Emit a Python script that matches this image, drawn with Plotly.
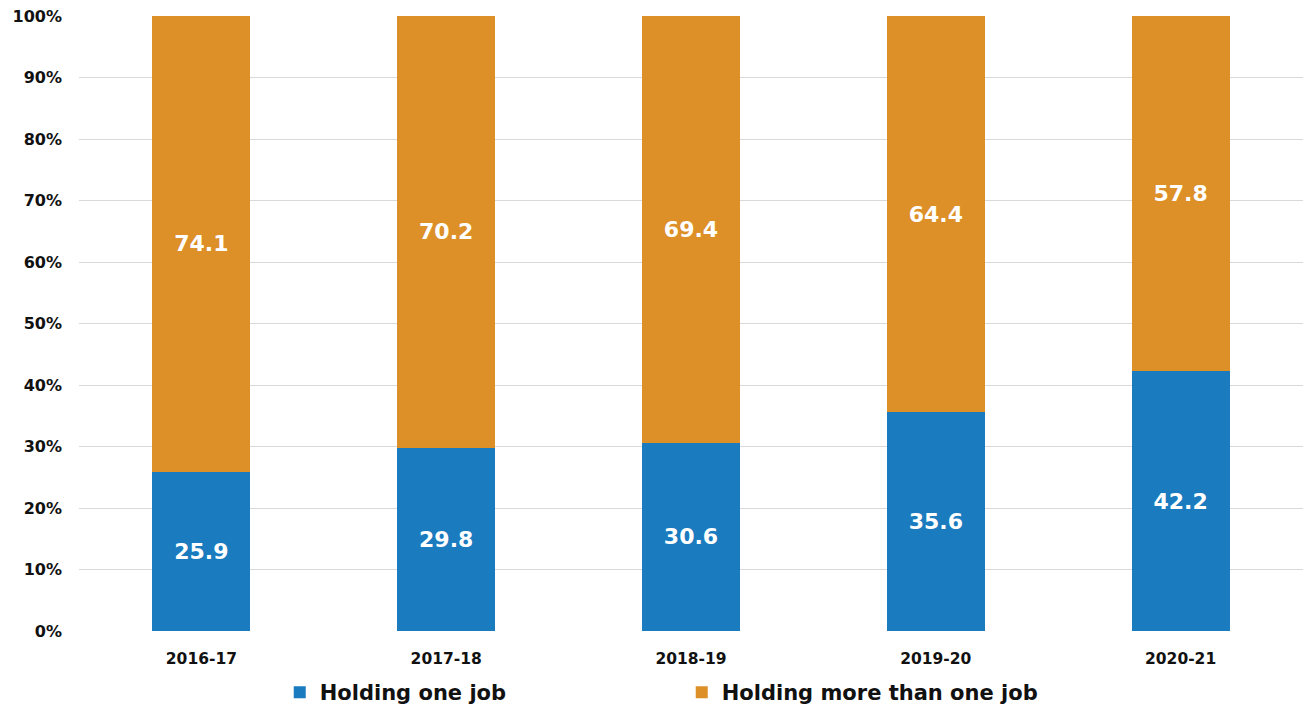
import plotly.graph_objects as go

years = ["2016-17", "2017-18", "2018-19", "2019-20", "2020-21"]
one_job = [25.9, 29.8, 30.6, 35.6, 42.2]
more_than_one = [74.1, 70.2, 69.4, 64.4, 57.8]
y_ticks = [0, 10, 20, 30, 40, 50, 60, 70, 80, 90, 100]
y_tick_labels = [f"{v}%" for v in y_ticks]

FONT = "DejaVu Sans"
BLUE = "#1a7bbf"
ORANGE = "#dd8f28"

fig = go.Figure()
fig.add_trace(go.Bar(
    x=years, y=one_job, name="Holding one job",
    marker=dict(color=BLUE, line=dict(width=0)),
    texttemplate="%{y:.1f}", textposition="inside", insidetextanchor="middle",
    textangle=0, textfont=dict(family=FONT, size=22, color="white", weight="bold"),
))
fig.add_trace(go.Bar(
    x=years, y=more_than_one, name="Holding more than one job",
    marker=dict(color=ORANGE, line=dict(width=0)),
    texttemplate="%{y:.1f}", textposition="inside", insidetextanchor="middle",
    textangle=0, textfont=dict(family=FONT, size=22, color="white", weight="bold"),
))

fig.update_layout(
    barmode="stack",
    bargap=0.6,
    width=1307, height=706,
    margin=dict(l=79, r=4, t=16, b=75, autoexpand=False),
    plot_bgcolor="white", paper_bgcolor="white",
    font=dict(family=FONT, color="#1a1a1a"),
    showlegend=True,
    legend=dict(
        orientation="h", x=0.164, xanchor="left",
        yref="container", y=0.019, yanchor="middle",
        font=dict(family=FONT, size=21, color="#111111", weight="bold"),
        entrywidth=357, entrywidthmode="pixels",
        itemwidth=30, traceorder="normal",
    ),
    uniformtext=dict(mode=False),
)
fig.update_xaxes(
    showgrid=False, showline=False, zeroline=False,
    tickfont=dict(family=FONT, size=15.5, color="#111111", weight="bold"),
    ticks="", ticklabelstandoff=16,
)
fig.update_yaxes(
    range=[0, 100], tickmode="array", tickvals=y_ticks, ticktext=y_tick_labels,
    showgrid=True, gridcolor="#d9d9d9", gridwidth=1,
    zeroline=False, showline=False, ticks="",
    tickfont=dict(family=FONT, size=16, color="#111111", weight="bold"),
    ticklabelstandoff=16,
)

fig.write_html("out.html")
